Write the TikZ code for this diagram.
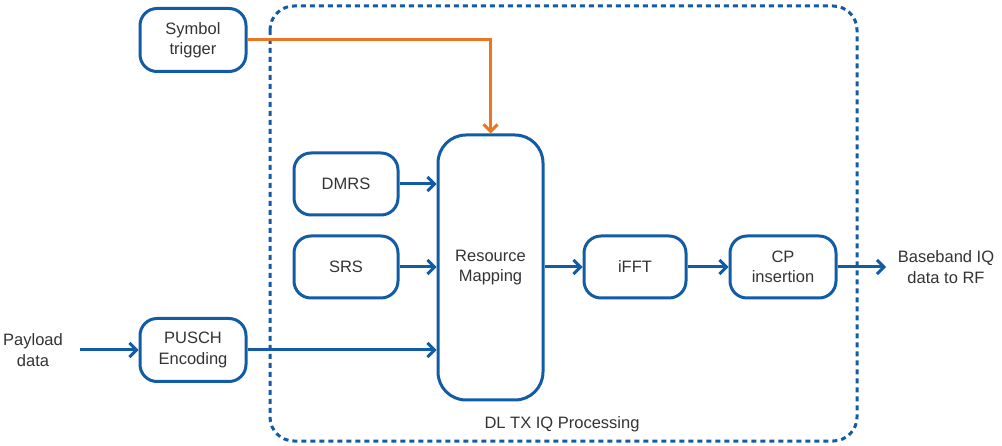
\documentclass[tikz,border=0pt]{standalone}
\usepackage{fontspec}
\setmainfont{Liberation Sans}
\usetikzlibrary{arrows.meta}
\definecolor{dblue}{RGB}{18,92,166}
\definecolor{dorange}{RGB}{236,118,32}
\begin{document}
\begin{tikzpicture}[x=1pt,y=-1pt,
  blk/.style={draw=dblue,line width=3pt,rounded corners=17pt,align=center,
    font=\fontsize{16.5}{20.5}\selectfont,text=black!80,inner sep=0pt},
  conn/.style={draw=dblue,line width=3pt,-{Straight Barb[length=7pt,width=14pt,line width=3pt]}},
  trig/.style={draw=dorange,line width=3pt,-{Straight Barb[length=7pt,width=14pt,line width=3pt]}},
  lbl/.style={align=center,font=\fontsize{16.5}{20.5}\selectfont,text=black!80}]
\useasboundingbox (0,0) rectangle (1002,446);
% container
\draw[dblue,line width=3pt,dash pattern=on 5pt off 4pt,rounded corners=24pt] (270,6) rectangle (857,441);
\node[lbl] (cont) at (562,424) {DL TX IQ Processing};
% blocks
\node[blk,minimum width=106pt,minimum height=63pt] (sym) at (193,40) {Symbol\\trigger};
\node[blk,minimum width=104pt,minimum height=62pt] (dmrs) at (346,184) {DMRS};
\node[blk,minimum width=104pt,minimum height=62pt] (srs) at (346,267) {SRS};
\node[blk,minimum width=105pt,minimum height=265pt,rounded corners=28pt] (rm) at (490.5,267.5) {Resource\\Mapping};
\node[blk,minimum width=102pt,minimum height=62pt] (ifft) at (635,267) {iFFT};
\node[blk,minimum width=106pt,minimum height=62pt] (cp) at (783,267) {CP\\insertion};
\node[blk,minimum width=106pt,minimum height=63pt] (pusch) at (193,350) {PUSCH\\Encoding};
\node[lbl] (pay) at (33,350) {Payload\\data};
\node[lbl] (bb) at (946,267) {Baseband IQ\\data to RF};
\coordinate (payend) at (80,350);
\coordinate (bbend) at (886,267);
% connectors
\draw[trig] (sym.east |- 0,40) -| (rm.north);
\draw[conn] (dmrs.east) -- (rm.west |- dmrs.east);
\draw[conn] (srs.east) -- (rm.west |- srs.east);
\draw[conn] (pusch.east) -- (rm.west |- pusch.east);
\draw[conn] (payend) -- (pusch.west);
\draw[conn] (rm.east |- ifft.west) -- (ifft.west);
\draw[conn] (ifft.east) -- (cp.west);
\draw[conn] (cp.east) -- (bbend);
\end{tikzpicture}
\end{document}
